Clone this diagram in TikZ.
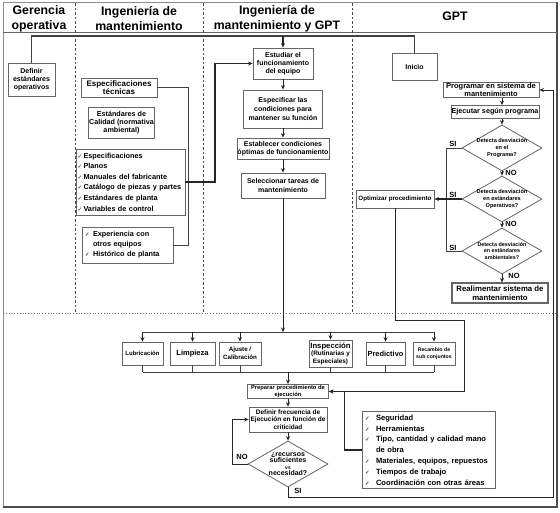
\documentclass[tikz,border=0pt]{standalone}
\usepackage{fontspec}
\setmainfont{Liberation Sans}
\newfontfamily\symfont{DejaVu Sans}
\usepackage{tikz}
\usetikzlibrary{shapes.geometric, arrows.meta}

\newcommand{\setfs}[2]{\fontsize{#1}{#2}\selectfont\bfseries}
\newcommand{\ck}[1][8pt]{\makebox[#1][l]{\symfont\fontsize{5.5}{5}\selectfont ✓}}

\tikzstyle{box} = [draw=black!60, fill=white, align=center, inner sep=0.5pt, line width=0.8pt]
\tikzstyle{listbox} = [draw=black!60, fill=white, align=left, inner ysep=1pt, line width=0.8pt]
\tikzstyle{decision} = [diamond, draw=black!60, fill=white, align=center, aspect=1.74, inner sep=-2pt, minimum width=80pt, minimum height=46pt, line width=0.8pt]
\tikzstyle{head} = [align=center, font=\setfs{12.3}{15}]
\tikzstyle{tag} = [font=\setfs{7.5}{8}, inner sep=0pt]
\tikzstyle{arrow} = [black!85, line width=0.8pt, ->, >={Stealth[length=4.5pt,width=4pt]}]
\tikzstyle{thickarrow} = [arrow, line width=1.5pt]
\tikzstyle{link} = [black!75, line width=0.8pt]
\tikzstyle{lane} = [black!70, line width=0.6pt, dash pattern=on 2.5pt off 2pt]

\begin{document}
\begin{tikzpicture}[x=1pt, y=-1pt]
\useasboundingbox (0,0) rectangle (560,512);

% frame, lanes and headings
\draw[black!45, line width=1pt] (3,2) rectangle (557,507);
\draw[black!70, line width=2pt] (3,507) -- (557,507) -- (557,2);
\draw[black!60, line width=0.8pt] (3,32) -- (557,32);
\foreach \x in {75,203,352}
  \draw[lane] (\x,3) -- (\x,313);
\draw[black!55, line width=0.8pt, dotted] (3,313) -- (557,313);

\node[head] (hger) at (39,19) {Gerencia\\operativa};
\node[head] (hing) at (139,19) {Ingeniería de\\mantenimiento};
\node[head] (hmix) at (277,19) {Ingeniería de\\mantenimiento y GPT};
\node[head] (hgpt) at (455,16) {GPT};

% Gerencia operativa
\node[box, minimum width=47pt, minimum height=33pt, font=\setfs{7}{8}] (defin) at (31.5,79.5) {Definir\\estándares\\operativos};

% Ingenieria de mantenimiento
\node[box, minimum width=76pt, minimum height=19pt, font=\setfs{8}{8.5}] (espec) at (119,87.5) {Especificaciones\\técnicas};
\node[box, minimum width=61pt, minimum height=31pt, font=\setfs{7.2}{8.3}] (calid) at (121.5,122.5) {Estándares de\\Calidad (normativa\\ambiental)};
\node[listbox, text width=106pt, inner xsep=1.5pt, minimum height=66pt, font=\setfs{7.3}{10.6}] (check) at (130.5,182) {%
  \ck[6pt]Especificaciones\\ \ck[6pt]Planos\\ \ck[6pt]Manuales del fabricante\\
  \ck[6pt]Catálogo de piezas y partes\\ \ck[6pt]Estándares de planta\\ \ck[6pt]Variables de control};
\node[listbox, text width=85pt, inner xsep=3pt, minimum height=36pt, font=\setfs{7.3}{10}] (exper) at (127.5,245) {%
  \ck Experiencia con\\ \hspace*{8pt}otros equipos\\ \ck Histórico de planta};

% Ingenieria de mantenimiento y GPT
\node[box, minimum width=60pt, minimum height=31pt, font=\setfs{7}{8.3}] (estud) at (283,63.5) {Estudiar el\\funcionamiento\\del equipo};
\node[box, minimum width=79pt, minimum height=38pt, font=\setfs{7}{8.8}] (especif) at (283,109) {Especificar las\\condiciones para\\mantener su función};
\node[box, minimum width=92pt, minimum height=21pt, font=\setfs{7}{8.5}] (estab) at (283,148.5) {Establecer condiciones\\óptimas de funcionamiento};
\node[box, minimum width=84pt, minimum height=25pt, font=\setfs{7}{9}] (selec) at (283,185.5) {Seleccionar tareas de\\mantenimiento};

% GPT
\node[box, minimum width=45pt, minimum height=27pt, font=\setfs{7}{8}] (inicio) at (414.5,66.5) {Inicio};
\node[box, minimum width=96pt, minimum height=15pt, font=\setfs{7.5}{7.5}] (prog) at (491,90) {Programar en sistema de\\mantenimiento};
\node[box, minimum width=86pt, minimum height=13pt, font=\setfs{7.2}{8}] (ejec) at (495,112) {Ejecutar según programa};
\node[decision, font=\setfs{5.6}{6.7}] (d1) at (502,148) {Detecta desviación\\en el\\Programa?};
\node[decision, font=\setfs{5.6}{6.7}] (d2) at (502,199) {Detecta desviación\\en estándares\\Operativos?};
\node[decision, font=\setfs{5.4}{6.5}] (d3) at (502,251) {Detecta desviación\\en estándares\\ambientales?};
\node[box, minimum width=96pt, minimum height=20pt, line width=1.2pt, font=\setfs{7.8}{9}] (real) at (500,293) {Realimentar sistema de\\mantenimiento};
\node[box, minimum width=78pt, minimum height=18pt, font=\setfs{6.2}{7}] (optim) at (395,199) {Optimizar procedimiento};

\node[tag] (si1) at (453,144) {SI};
\node[tag] (si2) at (453,195) {SI};
\node[tag] (si3) at (453,248) {SI};
\node[tag] (no1) at (511,173) {NO};
\node[tag] (no2) at (511,224) {NO};
\node[tag] (no3) at (514,276) {NO};

% maintenance tasks
\node[box, minimum width=41pt, minimum height=23pt, font=\setfs{6}{7}] (lub) at (142.5,353.5) {Lubricación};
\node[box, minimum width=45pt, minimum height=23pt, font=\setfs{7.5}{8}] (limp) at (192.5,353.5) {Limpieza};
\node[box, minimum width=42pt, minimum height=23pt, font=\setfs{6.2}{8}] (ajus) at (240,353.5) {Ajuste /\\Calibración};
\node[box, minimum width=43pt, minimum height=27pt, font=\setfs{6.4}{7.5}] (insp) at (330.5,353.5) {{\setfs{7.7}{8.5}Inspección}\\(Rutinarias y\\Especiales)};
\node[box, minimum width=39pt, minimum height=23pt, font=\setfs{7.4}{8}] (pred) at (385.5,353.5) {Predictivo};
\node[box, minimum width=42pt, minimum height=23pt, font=\setfs{5.2}{7}] (recam) at (434,353.5) {Recambio de\\sub conjuntos};

% execution
\node[box, minimum width=81pt, minimum height=14pt, font=\setfs{5.8}{6.2}] (prep) at (288,391.5) {Preparar procedimiento de\\ejecución};
\node[box, minimum width=78pt, minimum height=25pt, font=\setfs{6.5}{7.2}] (defr) at (288,419.5) {Definir frecuencia de\\Ejecución en función de\\criticidad};
\node[decision, inner sep=-1pt, font=\setfs{7}{6.5}] (recur) at (288,464) {¿recursos\\suficientes\\{\fontsize{5}{5}\selectfont vs}\\necesidad?};
\node[listbox, text width=127pt, inner xsep=3pt, minimum height=77pt, font=\setfs{7.6}{10.8}] (seg) at (428.5,450) {%
  \ck[11pt]Seguridad\\ \ck[11pt]Herramientas\\ \ck[11pt]Tipo, cantidad y calidad mano\\
  \hspace*{11pt}de obra\\ \ck[11pt]Materiales, equipos, repuestos\\ \ck[11pt]Tiempos de trabajo\\
  \ck[11pt]Coordinación con otras áreas};
\node[tag] (no4) at (242,457) {NO};
\node[tag] (si4) at (298,491) {SI};

% helper points
\coordinate (topline) at (0,36);
\coordinate (brk) at (188,0);
\coordinate (join) at (215,182);
\coordinate (split) at (283,332);
\coordinate (merge) at (288,372);
\coordinate (turn) at (464,320);
\coordinate (fb) at (553,497);

% connectors
\draw[link, line width=1.5pt] (defin.north) |- (topline -| inicio.north) -- (inicio.north);
\draw[thickarrow] (topline -| estud.north) -- (estud.north);
\draw[link] (espec.east) -| (brk |- exper.east) -- (exper.east);
\draw[thickarrow, line width=1.2pt] (check.east) -- (join) |- (estud.west);

\draw[arrow] (estud) -- (especif);
\draw[arrow] (especif) -- (estab);
\draw[arrow] (estab) -- (selec);
\draw[arrow] (selec) -- (split);
\draw[link] (split -| lub) -- (split -| recam);
\foreach \t in {lub,limp,ajus,insp,pred,recam}
  \draw[arrow] (split -| \t) -- (\t);
\foreach \t in {lub,limp,ajus,insp,pred,recam}
  \draw[link] (\t) -- (merge -| \t);
\draw[link] (merge -| lub) -- (merge -| recam);
\draw[arrow] (merge) -- (prep);
\draw[arrow] (prep) -- (defr);
\draw[arrow] (defr) -- (recur);
\draw[arrow] (recur.west) -- ++(-15,0) |- (defr.west);
\draw[arrow] (recur.south) |- (fb) |- (prog.east);

\draw[arrow] (prog.south -| d1) -- (ejec.north -| d1);
\draw[arrow] (ejec.south -| d1) -- (d1);
\draw[arrow] (d1) -- (d2);
\draw[arrow] (d2) -- (d3);
\draw[arrow] (d3.south) -- (real.north -| d3.south);
\draw[link] (d1.west) -- ++(-15,0) |- (d3.west);
\draw[thickarrow] (d2.west) -- (optim.east);
\draw[arrow] (optim.south) |- (turn) |- (prep.east);
\draw[thickarrow] (seg.west) -- ++(-17,0) |- (prep.east);

\end{tikzpicture}
\end{document}
